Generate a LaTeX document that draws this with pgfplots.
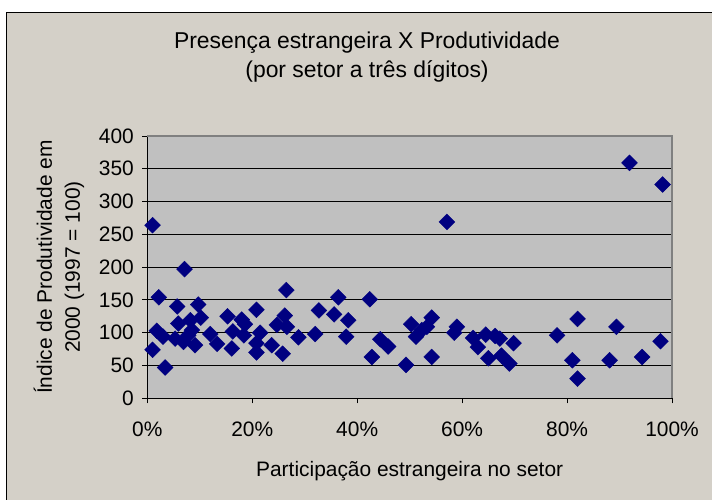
\documentclass[border=0pt]{standalone}
\usepackage{pgfplots}
\pgfplotsset{compat=1.18}
\usepackage{fontspec}
\setmainfont{Liberation Sans}
\definecolor{chartbg}{HTML}{D4D0C8}
\definecolor{plotbg}{HTML}{C0C0C0}
\definecolor{navy}{HTML}{000080}
\definecolor{framegray}{HTML}{808080}
\begin{document}
\begin{tikzpicture}[x=1bp,y=1bp]
\path[use as bounding box] (0,0) rectangle (712,500);
\fill[white] (0,0) rectangle (712,500);
\begin{scope}
\clip (0,0) rectangle (712,500);
\filldraw[fill=chartbg, draw=black, line width=1.5bp] (6.5,-10) rectangle (730,487.5);
\end{scope}
\node[align=center, font=\fontsize{23}{29}\selectfont] at (367,442.5) {Presença estrangeira X Produtividade\\(por setor a três dígitos)};
\begin{axis}[
  at={(147.3bp,101.7bp)}, anchor=south west,
  scale only axis, width=524.7bp, height=262.3bp,
  xmin=0, xmax=100, ymin=0, ymax=400,
  xtick={0,20,...,100}, ytick={0,50,...,400},
  xticklabel={\pgfmathprintnumber{\tick}\%},
  axis background/.style={fill=plotbg},
  axis x line*=bottom, axis y line*=left,
  axis line style={black, line width=1bp, -},
  ymajorgrids, grid style={black, line width=0.9bp},
  tick style={black, line width=0.9bp}, major tick length=5bp, tick align=outside,
  /pgf/number format/assume math mode=true,
  tick label style={font=\fontsize{21}{24}\selectfont},
  yticklabel style={xshift=-5bp},
  xticklabel style={yshift=-15bp},
  xlabel={Participação estrangeira no setor},
  xlabel style={font=\fontsize{21}{24}\selectfont, at={(axis description cs:0.5,-0.277)}, anchor=center},
  ylabel={Índice de Produtividade em\\2000 (1997 = 100)},
  ylabel style={font=\fontsize{21}{28}\selectfont, align=center, at={(axis description cs:-0.1683,0.5)}, anchor=center, rotate=0},
  clip=false,
]
\draw[framegray, line width=2bp] (rel axis cs:0,1) -- (rel axis cs:1,1) -- (rel axis cs:1,0);
\addplot[only marks, mark=square*, mark size=5.6bp, mark options={rotate=45, fill=navy, draw=navy}] table {
x y
1.0 264
7.1 197
2.2 154
5.7 140
9.7 143
1.0 74
3.4 47
1.8 103
3.0 94
5.9 114
8.2 119
10.2 123
5.3 91
7.8 96
9.1 81
6.9 86
8.5 104
12.0 98
13.3 83
15.3 125
16.1 76
16.3 102
18.0 120
18.6 113
18.4 96
20.8 135
21.5 100
20.8 84
20.8 70
23.7 81
25.8 68
26.5 165
24.7 112
26.2 126
26.6 109
28.8 93
32.0 98
32.7 134
36.4 154
35.6 128
38.3 119
37.9 94
42.4 151
44.4 90
45.9 79
42.8 63
49.3 51
50.3 113
52.3 104
54.2 123
53.3 109
51.2 94
59.0 109
58.5 100
54.2 63
57.1 269
62.1 92
63.0 78
64.5 97
66.3 95
67.2 91
69.8 84
65.0 61
67.5 65
69.0 53
78.1 96
82.0 121
89.4 109
97.8 87
81.0 58
88.1 58
94.3 63
82.0 30
91.9 359
98.2 326
};
\end{axis}
\end{tikzpicture}
\end{document}
